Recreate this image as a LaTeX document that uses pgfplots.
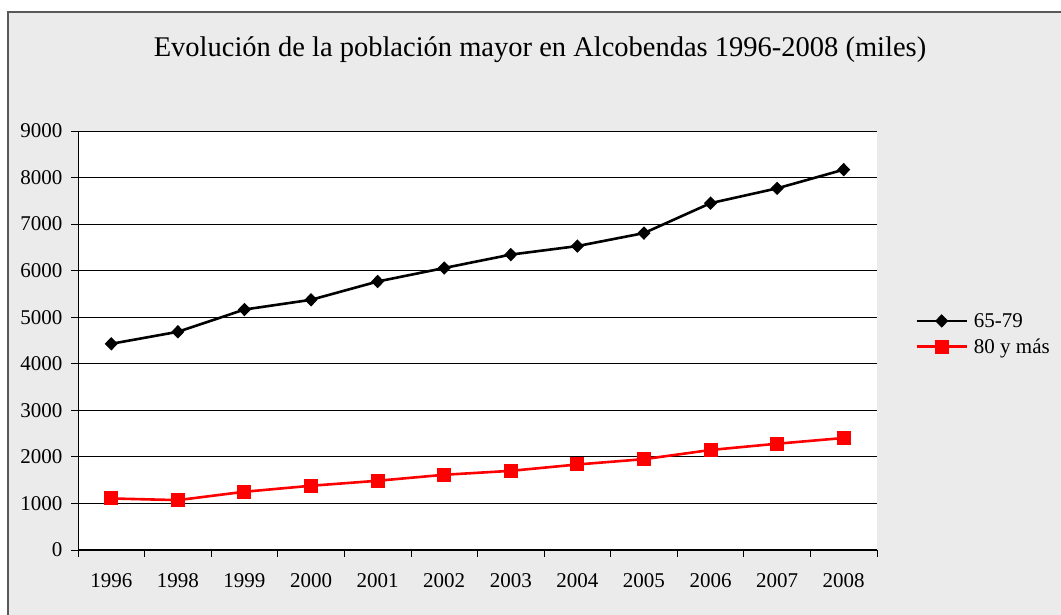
\documentclass[border=0pt]{standalone}
\usepackage{fontspec}
\setmainfont{Liberation Serif}
\usepackage{pgfplots}
\pgfplotsset{compat=1.18}
\definecolor{chartbg}{HTML}{EBEBEB}
\newcommand{\tickfont}{\fontsize{21}{25}\selectfont}

\begin{document}
\begin{tikzpicture}[x=1pt,y=1pt]
\useasboundingbox (0,0) rectangle (1061,615);
\clip (0,0) rectangle (1061,615);
\fill[white] (0,0) rectangle (1061,615);
% chart area with light pattern-like grey
\filldraw[fill=chartbg, draw=gray!70!black, line width=1.5pt] (8,-10) rectangle (1075,603);
\node[font=\fontsize{28.5}{32}\selectfont, anchor=base] at (540,558)
  {Evolución de la población mayor en Alcobendas 1996-2008 (miles)};

\begin{axis}[
    at={(78pt,65pt)}, anchor=south west,
    scale only axis,
    width=799pt, height=419pt,
    axis background/.style={fill=white},
    axis lines=left,
    axis line style={-, black, line width=1pt},
    xmin=-0.5, xmax=11.5,
    ymin=0, ymax=9000,
    ytick={0,1000,...,9000},
    scaled y ticks=false,
    /pgf/number format/1000 sep={},
    /pgf/number format/assume math mode=true,
    ymajorgrids,
    grid style={black, line width=0.8pt},
    xtick={0,...,11},
    xticklabels={1996,1998,1999,2000,2001,2002,2003,2004,2005,2006,2007,2008},
    major x tick style={draw=none},
    minor xtick={-0.5,0.5,...,11.5},
    minor x tick style={black, line width=0.8pt},
    major y tick style={black, line width=0.8pt},
    tick align=outside,
    major tick length=7pt,
    minor tick length=7pt,
    tick label style={font=\tickfont},
    xticklabel style={yshift=-13pt},
    yticklabel style={xshift=-5pt},
    legend image code/.code={%
        \draw[#1] (0pt,0pt) -- (50pt,0pt);
        \draw[#1, only marks] plot coordinates {(25pt,0pt)};
    },
    legend style={
        at={(1.044,0.5155)}, anchor=west,
        draw=none, fill=none,
        font=\tickfont,
        row sep=6pt,
        cells={anchor=west},
        /tikz/every odd column/.append style={column sep=4pt},
    },
    clip=false,
]

\addplot[black, line width=2.6pt, mark=diamond*, mark size=6pt,
    mark options={solid, fill=black, line width=1pt, xscale=1.3}]
    coordinates {
        (0,4429) (1,4687) (2,5165) (3,5374) (4,5767) (5,6057)
        (6,6345) (7,6528) (8,6807) (9,7450) (10,7768) (11,8170)
    };

\addplot[red, line width=2.6pt, mark=square*, mark size=6.5pt,
    mark options={solid, fill=red, line width=1pt}]
    coordinates {
        (0,1107) (1,1071) (2,1251) (3,1380) (4,1487) (5,1616)
        (6,1700) (7,1837) (8,1951) (9,2148) (10,2283) (11,2406)
    };

\legend{65-79, 80 y más}
\end{axis}
\end{tikzpicture}
\end{document}
